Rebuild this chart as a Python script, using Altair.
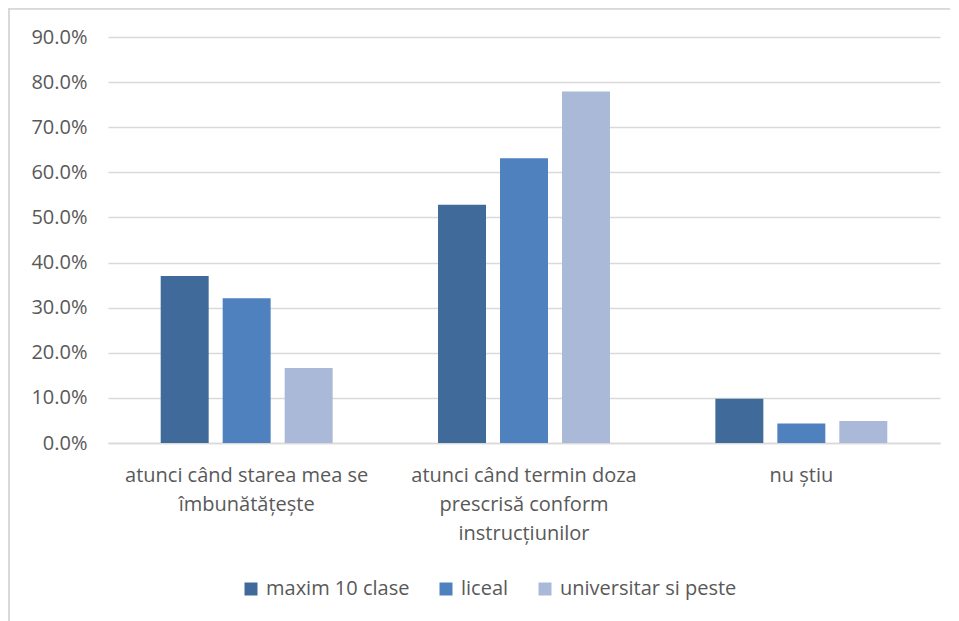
import altair as alt
import pandas as pd

categories = [
    "atunci când starea mea se|îmbunătățește",
    "atunci când termin doza|prescrisă conform|instrucțiunilor",
    "nu știu",
]
series = ["maxim 10 clase", "liceal", "universitar si peste"]
maxim_10_clase = [0.370, 0.528, 0.098]
liceal = [0.321, 0.631, 0.043]
universitar = [0.166, 0.779, 0.049]
colors = ["#3F6A9A", "#4E81BD", "#AAB9D7"]

rows = []
for vals, s in zip([maxim_10_clase, liceal, universitar], series):
    for c, v in zip(categories, vals):
        rows.append({"cat": c, "series": s, "value": v})
df = pd.DataFrame(rows)

FONT = "Open Sans"
GRAY = "#595959"
FS = 20

bars = alt.Chart(df).mark_bar().encode(
    x=alt.X("cat:N", sort=categories, title=None,
            scale=alt.Scale(paddingInner=0.38, paddingOuter=0.19),
            axis=alt.Axis(labelAngle=0, labelExpr="split(datum.label, '|')",
                          labelFont=FONT, labelFontSize=FS, labelColor=GRAY,
                          labelLineHeight=29, labelPadding=22, ticks=False,
                          domainColor="#D9D9D9", domainWidth=1.5, labelLimit=400)),
    xOffset=alt.XOffset("series:N", sort=series,
                        scale=alt.Scale(paddingInner=0.226, paddingOuter=0)),
    y=alt.Y("value:Q", title=None,
            scale=alt.Scale(domain=[0, 0.9], nice=False),
            axis=alt.Axis(format=".1%", values=[i / 10 for i in range(10)],
                          labelFont=FONT, labelFontSize=FS, labelColor=GRAY,
                          labelPadding=21, ticks=False, domain=False,
                          gridColor="#D9D9D9", gridWidth=1.5)),
    color=alt.Color("series:N", sort=series,
                    scale=alt.Scale(domain=series, range=colors),
                    legend=alt.Legend(title=None, orient="none", direction="horizontal",
                                      legendX=133, legendY=542,
                                      symbolType="square", symbolSize=169,
                                      symbolStrokeWidth=0, labelLimit=400,
                                      labelFont=FONT, labelFontSize=FS, labelColor=GRAY,
                                      labelOffset=5, columnPadding=26)),
)

top_border = alt.Chart(df).mark_rule(color="#D9D9D9", strokeWidth=1.5).encode(
    x=alt.value(-99), x2=alt.value(870), y=alt.value(-28.5)
)
left_border = alt.Chart(df).mark_rule(color="#D9D9D9", strokeWidth=1.5).encode(
    x=alt.value(-99), y=alt.value(-29), y2=alt.value(600)
)

chart = alt.layer(bars, top_border, left_border).properties(
    width=832, height=406,
    autosize=alt.AutoSizeParams(type="none"),
    padding={"left": 100, "top": 29, "right": 10, "bottom": 190},
).configure_view(stroke=None)

chart.save("out.html", embed_options={"renderer": "svg", "actions": False})
